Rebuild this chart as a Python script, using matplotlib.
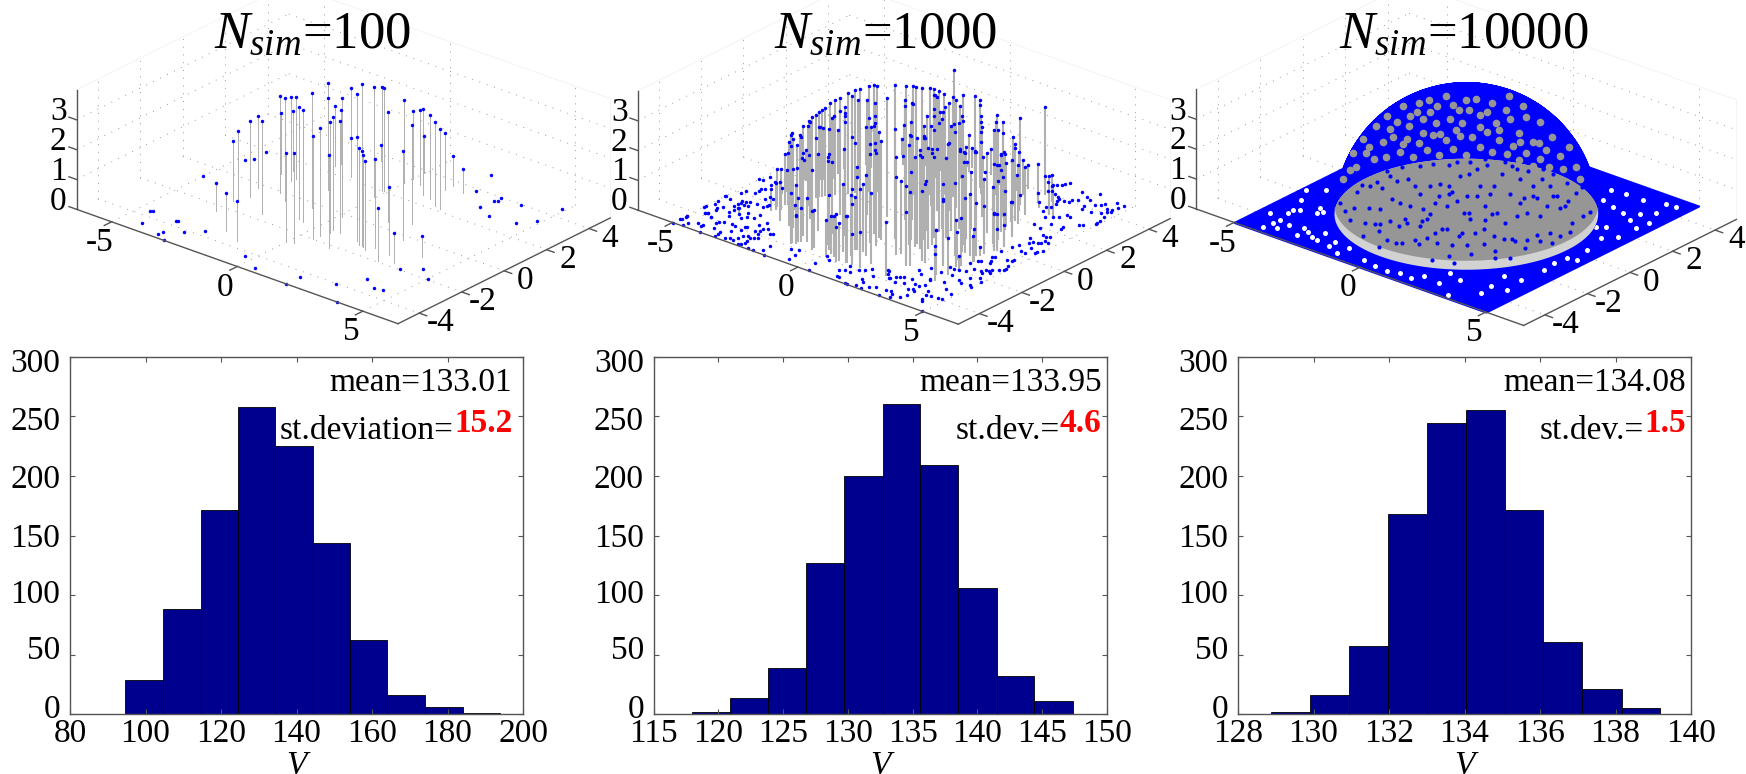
import numpy as np
import matplotlib
matplotlib.use("Agg")
import matplotlib.pyplot as plt
from mpl_toolkits.mplot3d import art3d, proj3d
from matplotlib.transforms import ScaledTranslation

plt.rcParams["font.family"] = ["Liberation Serif", "DejaVu Serif"]
plt.rcParams["mathtext.fontset"] = "custom"
plt.rcParams["mathtext.it"] = "Liberation Serif:italic"
plt.rcParams["mathtext.rm"] = "Liberation Serif"

# scatter values are in hundredths
P1_FLOOR_X = [-462,-452,-425,-356,-348,-334,-331,-297,-285,-239,-30,48,195,193,311,395,358,416,449,392,442,500,164,203,288,301,295,286,352,374,445,487,485,-500,-467,-480,-459]
P1_FLOOR_Y = [-366,-361,-447,-367,-367,-476,-458,-496,-414,-371,-429,-473,-499,-435,-401,-499,-311,-350,-344,-196,-150,-194,500,386,367,371,395,305,271,396,287,338,458,-70,186,106,124]
P1_DOME_X = [-311,-192,-120,-317,-312,-294,-319,-186,-245,-196,-331,-1,-272,-319,24,-273,-78,-55,-101,47,49,-145,-240,125,58,54,-241,80,-236,13,-153,-235,27,157,184,194,-41,204,218,-6,233,-18,-158,-11,144,298,301,346,264,0,207,1,44,385,96,0,135,176,203,124,128,182]
P1_DOME_Y = [-234,-327,-357,-147,-125,-93,-24,-164,-8,-45,99,-268,76,138,-260,101,-117,-126,-29,-197,-167,99,210,-216,-132,-111,247,-112,267,-20,219,315,30,-122,-142,-143,135,-147,-156,152,-127,201,364,205,39,-138,-193,-173,-30,286,78,329,310,-85,261,380,249,223,217,330,365,346]
P1_DOME_Z = [94,129,134,199,228,256,240,314,324,346,202,297,284,199,302,274,374,375,386,345,360,361,242,312,373,380,202,375,182,399,297,73,398,347,325,319,374,311,297,370,299,349,52,346,371,228,178,99,298,279,333,227,249,70,288,126,282,282,268,189,103,83]

P2_FLOOR_X = [-500,-500,-494,-500,-500,-471,-460,-439,-486,-492,-457,-462,-458,-500,-497,-474,-433,-434,-434,-415,-413,-438,-424,-416,-415,-401,-388,-361,-359,-358,-393,-394,-378,-480,-474,-445,-444,-450,-439,-500,-489,-484,-453,-444,-419,-399,-387,-352,-333,-331,-371,-360,153,185,215,221,231,235,241,227,258,237,277,289,311,327,325,337,310,346,367,364,399,413,419,443,474,467,448,466,471,461,481,451,425,382,389,304,295,308,296,310,340,358,377,380,398,-498,-497,-500,-460,-464,-440,-418,-417,-391,-471,-464,-439,-395,-396,-384,-378,-343,-341,-336,-306,-294,-278,-275,-340,-354,-321,-306,-309,-308,-271,-260,-248,-267,-248,-238,-228,-287,-254,-259,-277,-247,-221,-214,-248,-241,-236,-238,-205,-186,-162,-135,-166,-100,-76,-64,-59,39,19,14,40,111,123,113,141,133,142,186,194,218,207,221,244,258,274,216,184,172,156,312,319,225,243,263,229,268,297,277,284,292,324,321,352,297,319,317,362,370,371,381,359,371,383,417,430,444,385,377,329,346,353,439,448,468,485,482,445,410,358,395,354,373,391,408,436,457,450,486,495,475,494,422,446,456,453,463,476,468,482,490,491,481,382,392,400,427,419,406,411,451,469,469,397,406,411,442,463,455,487,486,495,426,431,405,447,453,455,470,420,439,443,349,381,388,428,436,459,466,493,494,487,493]
P2_FLOOR_Y = [-466,-434,-442,-350,-341,-383,-380,-393,-314,-294,-314,-334,-347,-253,-251,-260,-291,-267,-257,-291,-311,-245,-243,-233,-263,-261,-234,-237,-223,-215,-191,-167,-170,-203,-182,-176,-157,-140,-134,-91,-85,-59,-74,-100,-329,-353,-321,-326,-313,-289,-298,-342,488,462,446,460,475,482,500,412,407,421,398,393,389,394,408,424,473,457,443,497,429,441,456,483,477,458,430,433,422,413,377,396,383,399,380,358,376,331,321,292,264,279,289,319,313,-499,-461,-434,-473,-492,-450,-453,-462,-500,-383,-376,-393,-418,-404,-396,-450,-462,-473,-494,-483,-474,-476,-457,-397,-390,-434,-405,-383,-376,-439,-429,-435,-388,-395,-426,-418,-342,-377,-360,-319,-350,-372,-365,-488,-482,-472,-457,-492,-492,-472,-500,-437,-413,-405,-439,-472,-493,-444,-380,-401,-435,-425,-390,-423,-473,-474,-497,-496,-485,-442,-452,-489,-470,-454,-403,-367,-387,-394,-453,-494,-339,-364,-379,-339,-381,-391,-364,-355,-345,-381,-339,-363,-279,-294,-245,-304,-313,-366,-351,-407,-397,-403,-377,-404,-398,-441,-464,-448,-465,-481,-433,-444,-394,-394,-347,-328,-295,-246,-242,-199,-202,-202,-188,-255,-269,-221,-263,-270,-200,-222,-166,-165,-169,-146,-147,-158,-137,-122,-109,-99,-79,-138,-114,-107,-100,-85,-65,-58,-48,-42,-33,-9,29,59,28,24,64,51,44,73,87,100,116,105,110,127,124,160,154,164,200,190,236,244,227,286,293,331,322,351,-497]
P2_DOME_X = [-331,-309,-327,-321,-319,-253,-330,-251,-307,-265,-297,-294,-288,-283,-277,-271,-264,-255,-245,-230,-217,-206,-189,-179,-171,-181,-282,-85,-271,-33,-381,-262,-323,-328,-153,-167,-381,-198,-395,-178,-395,-121,-386,-139,-391,-126,-377,-203,-358,-219,-355,-142,-355,-200,-342,-150,-330,-117,-309,-93,-346,-22,-355,-30,-341,-40,-302,-16,-324,16,-298,48,-312,60,-319,50,-337,79,-62,-80,-387,-38,-383,-63,21,54,101,52,75,92,31,57,70,149,-12,48,95,-121,-100,-113,-54,-119,89,33,11,-129,-127,-115,-91,-73,-54,-34,-28,-10,-6,29,-66,97,49,87,80,156,119,166,146,211,144,250,183,279,251,-2,-199,26,-185,38,-102,57,-68,87,-37,114,-120,130,-239,59,-195,125,-183,153,-158,162,-94,191,-97,181,-7,166,32,190,18,218,-51,240,-12,238,119,286,80,293,167,308,150,265,281,336,218,281,254,357,279,87,-240,92,-226,165,-183,161,-212,132,-288,153,-236,196,-198,202,-159,211,-127,229,-91,264,-103,253,-38,280,17,276,-14,303,52,298,-4,322,59,336,52,306,-64,278,-77,257,233,204,183,174,-279,135,220,273,298,310,307,178,205,168,173,222,250,255,323,327,343,359,341,295,316,364,367,368,376,359,220,254,241,381,352,384,379,382,-51,8,14,60,63,113,142,-52,88,33,-116,242,352,384,381,383,355,334,390,365,260,380]
P2_DOME_Y = [-205,-215,-176,-169,-155,-206,-101,-186,-112,-139,-94,-85,-76,-66,-58,-49,-35,-22,-10,11,28,38,57,69,74,-30,119,-73,184,-41,-122,-275,-222,-237,-328,-335,-99,-287,-36,-272,-2,-292,-3,-313,16,-254,32,-282,28,-284,21,-185,37,-208,65,-125,62,-137,89,-168,97,-111,139,-209,173,-231,195,-117,205,-161,199,-176,231,-179,243,-220,240,-224,215,-242,-318,-312,102,-283,105,-286,-298,-283,-280,-316,-323,-311,-330,-333,-337,-288,-357,-356,-338,-353,-359,-367,-375,-370,-359,-375,-380,96,117,129,148,162,175,178,195,197,223,221,301,173,268,257,294,229,295,264,305,249,344,243,336,239,291,-23,224,-8,270,87,274,111,311,146,314,29,326,72,263,-39,312,-3,330,-25,347,35,358,8,369,83,325,146,342,188,366,183,378,53,386,186,357,138,387,174,355,166,367,287,292,175,334,280,308,145,286,-150,295,-132,317,-94,345,-120,332,-156,274,-157,322,-106,347,-137,364,-62,373,-28,386,-7,383,-49,393,68,391,119,397,75,389,132,400,49,396,98,396,14,390,-16,392,-108,-142,-155,-185,-197,287,-222,-169,-126,-89,-69,-42,-236,-218,-253,-267,-218,-196,-202,-92,-84,17,30,-87,-184,-166,-55,-19,-1,56,138,-276,-241,-264,20,-122,-11,94,95,-385,-392,-380,-379,-375,-370,-375,-359,-374,-371,-264,-122,-11,19,90,-142,-201,-74,-160,-302,90]
P2_DOME_Z = [125,135,166,169,189,231,202,249,243,265,258,268,275,284,289,295,307,316,321,335,344,346,353,357,355,355,257,384,229,396,16,126,86,70,170,141,69,195,50,233,64,217,103,276,77,254,132,292,177,279,180,311,172,323,198,345,209,344,235,373,146,340,64,325,77,380,164,366,123,359,133,355,63,328,34,328,15,308,234,237,18,279,52,273,266,277,267,240,223,223,224,214,204,233,180,174,191,144,145,112,127,92,153,136,124,366,364,366,364,362,357,356,352,348,332,332,255,347,293,294,259,289,242,251,213,231,146,197,115,157,124,399,265,399,230,389,273,380,242,362,244,382,198,371,185,393,158,380,132,368,120,364,152,351,122,347,233,333,205,297,161,282,122,316,106,262,136,243,63,210,78,195,51,98,85,127,28,64,28,107,17,360,126,366,93,352,88,345,69,344,48,335,29,332,20,317,49,334,72,327,54,300,53,306,64,278,84,264,49,250,79,232,4,232,0,194,23,257,63,287,16,287,292,307,303,301,12,304,288,263,252,244,252,269,265,260,242,251,243,232,218,215,205,175,189,197,179,155,158,157,124,110,187,192,178,121,146,110,85,68,95,79,122,113,124,103,116,127,154,137,93,178,145,110,120,73,117,90,47,26,28,86]

P3_BLUE_X = [-238,-191,-148,-133,-97,-71,-44,-30,1,38,68,93,112,138,162,178,178,195,206,221,263,263,267,300,327,328,344,362,372,360,147,-154,-77,-35,-14,20,53,78,122,136,145,179,200,238,241,268,297,320,335,347,345,365,376,391,381,366,-146,-75,-26,39,75,118,147,172,218,236,266,303,328,339,359,376,-79,-17,19,73,114,148,169,198,231,267,283,307,327,348,364,375,387,395,396,-11,50,126,178,218,254,291,316,341,365,381,393,169,214,229,267,318,345,-115,-50,-1,55,91,133,150,181,208,251,280,300,314,329,348,227,247,185,237,280,289,328,366,7,142,70,123]
P3_BLUE_Y = [-312,-343,-339,-334,-340,-336,-345,-323,-328,-317,-320,-327,-302,-286,-275,-278,-239,-220,-195,-165,-183,-144,-103,-102,-72,-33,-14,-3,39,91,372,-363,-383,-387,-387,-381,-381,-371,-360,-346,-317,-303,-280,-271,-235,-228,-208,-196,-158,-126,-77,-53,-5,32,99,148,-357,-371,-373,-356,-352,-341,-304,-286,-255,-214,-203,-152,-119,-86,-16,18,-390,-392,-395,-388,-374,-360,-345,-325,-309,-274,-254,-235,-212,-181,-146,-112,-64,-27,19,-399,-392,-373,-348,-325,-298,-262,-238,-190,-155,-104,-63,-361,-335,-327,-293,-240,-201,-316,-315,-301,-282,-262,-241,-222,-196,-158,-115,-95,-63,-9,19,60,-281,-274,-333,-301,-242,-221,-135,-87,-358,-337,-370,-354]
P3_BLUE_Z = [77,74,151,175,186,204,198,234,228,241,229,211,236,243,241,225,267,271,282,289,239,264,279,244,218,227,203,170,141,147,4,64,84,95,99,118,111,126,124,146,195,189,204,173,217,189,168,137,150,154,186,155,136,76,72,66,104,130,141,177,175,173,213,220,217,242,219,212,196,193,174,133,41,77,61,63,82,93,111,124,105,115,124,102,89,78,76,84,76,54,54,30,58,69,81,79,80,79,55,85,51,60,43,27,42,21,52,34,28,217,242,263,279,288,290,297,297,303,289,269,257,248,226,188,173,154,123,116,152,165,185,134,179,162,135,140]
P3_GREY_X = [-309,-80,-276,-49,-245,40,-148,70,-59,200,24,-202,-351,-241,-363,-124,-347,-36,-306,42,-254,103,-168,164,-104,252,-17,297,-384,-122,-372,-40,-347,37,-299,108,-239,159,-170,234,-92,293,-392,-126,-389,-35,-360,49,-316,118,-260,177,-192,239,-114,298,-9,325,115,-37,-212,107,-119,128,-295,-131,-223,10,-390,336,-382,-256,99,-35,-273,52,-336,-93,-368,134,-164,237,-39]
P3_GREY_Y = [67,-139,152,-36,257,0,298,120,350,108,376,-136,-9,-199,-103,-181,143,-160,219,-127,282,-58,337,10,371,16,394,88,-1,-246,94,-233,189,-199,257,-157,311,-93,355,-56,388,-1,-54,-287,83,-270,173,-243,245,-201,304,-145,350,-93,383,-37,400,71,379,-96,248,-31,327,114,128,-204,277,-74,-10,135,-96,-275,367,-130,274,-186,192,-155,136,-94,348,-28,389]
P3_GREY_Z = [245,366,247,395,185,398,222,375,185,329,133,317,192,249,132,334,139,365,135,377,128,382,134,364,108,310,70,253,111,291,115,322,66,345,67,351,77,355,71,319,38,272,61,248,46,292,22,314,15,325,11,328,26,306,10,264,14,222,59,386,232,384,198,361,239,318,184,393,91,169,68,137,126,377,103,350,102,357,78,365,109,321,87]
P3_GAP_X = [-459,-405,-362,-421,-448,-483,-351,-436,-312,-285,-413,-239,-367,-374,-26,-115,121,167,191,330,237,291,256,-227,-169,-119,32,82,-297,-254,-405,-417,-405,-343,-177,251,305,274,344,467,406,456,383,224,398,413,452,436,359,445,468,437,438,430,376,392,399,446,430,425,359,460]
P3_GAP_Y = [-380,-396,-407,-316,-245,-181,-288,-142,-396,-405,-465,-381,-255,-448,-452,-417,-453,-460,-425,-479,-355,-372,-432,-434,-447,-467,-465,-470,-446,-425,-303,-344,-428,-266,-407,344,327,426,422,308,287,174,205,415,343,450,451,376,186,39,-35,-45,-154,-254,-269,-349,-405,-335,-99,132,311,255]

RADIUS = 4
DOMAIN = 5
X_TICKS = [-5, 0, 5]
Y_TICKS = [-4, -2, 0, 2, 4]
Z_TICKS = [0, 1, 2, 3]
TITLES = ["100", "1000", "10000"]

H1_EDGES = [94.7,104.6,114.6,124.5,134.4,144.4,154.3,164.1,174.1,184.0,193.9]
H1_COUNTS = [29,88,171,258,225,144,62,16,6,1]
H1_TICKS = [80,100,120,140,160,180,200]
H2_EDGES = [118.0,120.9,123.8,126.8,129.7,132.7,135.6,138.5,141.5,144.4,147.4]
H2_COUNTS = [2,14,39,127,200,260,209,106,32,11]
H2_TICKS = [115,120,125,130,135,140,145,150]
H3_EDGES = [128.87,129.9,130.94,131.97,133.0,134.04,135.07,136.09,137.1,138.16,139.19]
H3_COUNTS = [2,16,57,168,244,255,171,61,21,5]
H3_TICKS = [128,130,132,134,136,138,140]
COUNT_TICKS = [0,50,100,150,200,250,300]
LABEL_SHIFT = [7.6,7,4.3,0.7,0,-2,-4]

W, H = 1746, 774
BLUE = "#0000ff"
NAVY = "#00008f"
AXIS = "#555555"

fig = plt.figure(figsize=(W / 100, H / 100), dpi=100)


def hundredths(*lists):
    n = min(len(v) for v in lists)
    return [np.array(v[:n]) / 100 for v in lists]


def line(ax, x, y, z, **kw):
    ax.plot(x, y, z, clip_on=False, **kw)


def dots(ax, x, y, z, color=BLUE, ms=2.5, zorder=8):
    ax.plot(x, y, z, "o", color=color, ms=ms, mew=0, clip_on=False, zorder=zorder)


def draw_frame(ax, xmax):
    grid = dict(color="#999999", lw=0.7, ls=(0, (1, 7)), zorder=1)
    xl, yl, zl = (-xmax, xmax), (-DOMAIN, DOMAIN), (0, 4)
    for t in X_TICKS:
        line(ax, [t, t], yl, [0, 0], **grid)
        line(ax, [t, t], [DOMAIN, DOMAIN], zl, **grid)
    for t in Y_TICKS:
        line(ax, xl, [t, t], [0, 0], **grid)
        line(ax, [-xmax, -xmax], [t, t], zl, **grid)
    for t in Z_TICKS[1:]:
        line(ax, xl, [DOMAIN, DOMAIN], [t, t], **grid)
        line(ax, [-xmax, -xmax], yl, [t, t], **grid)
    faint = dict(color="#f2f2f2", lw=0.6, zorder=1)
    line(ax, xl, [DOMAIN, DOMAIN], [4, 4], **faint)
    line(ax, [-xmax, -xmax], yl, [4, 4], **faint)
    line(ax, [xmax, xmax], [DOMAIN, DOMAIN], zl, **faint)

    edge = dict(color=AXIS, lw=1.0, zorder=9)
    line(ax, xl, [-DOMAIN, -DOMAIN], [0, 0], **edge)
    line(ax, [xmax, xmax], yl, [0, 0], **edge)
    line(ax, [-xmax, -xmax], [-DOMAIN, -DOMAIN], zl, **edge)
    for t in X_TICKS:
        line(ax, [t, t], [-DOMAIN - 0.35, -DOMAIN], [0, 0], **edge)
        ax.text(t, -DOMAIN - 0.56, -0.5, f"{t}", fontsize=24, ha="center", va="center", zorder=10)
    for t in Y_TICKS:
        line(ax, [xmax, xmax + 0.3], [t, t], [0, 0], **edge)
        ax.text(xmax + 0.84, t, -0.08, f"{t}", fontsize=24, ha="center", va="center", zorder=10)
    for t in Z_TICKS:
        line(ax, [-xmax - 0.3, -xmax], [-DOMAIN, -DOMAIN], [t, t], **edge)
        ax.text(-xmax - 0.73, -DOMAIN, t + 0.05, f"{t}", fontsize=24, ha="center", va="center", zorder=10)


def place(ax, xmax, left, bottom_x):
    # scale and move the 3D box so its floor corners land where they do in the picture
    box = (2 * xmax, 2 * DOMAIN, 4)
    ax.set_xlim(-xmax, xmax)
    ax.set_ylim(-DOMAIN, DOMAIN)
    ax.set_zlim(0, 4)

    def corner(x, y):
        X, Y, _ = proj3d.proj_transform(x, y, 0, ax.get_proj())
        return ax.transData.transform((X, Y))

    zoom = 1.0
    for _ in range(3):
        ax.set_box_aspect(box, zoom=zoom)
        ax.apply_aspect()
        a = corner(-xmax, -DOMAIN)
        b = corner(xmax, -DOMAIN)
        zoom *= (bottom_x - left[0]) / (b[0] - a[0])
        ax.set_box_aspect(box, zoom=zoom)
        a = corner(-xmax, -DOMAIN)
        p = ax.get_position()
        ax.set_position([p.x0 + (left[0] - a[0]) / W, p.y0 + (H - left[1] - a[1]) / H, p.width, p.height])


def make_3d(xmax):
    side = 900
    ax = fig.add_axes([0.2, 0.0, side / W, side / H], projection="3d", computed_zorder=False)
    ax.set_proj_type("ortho")
    ax.view_init(elev=24.9, azim=-49.8)
    ax.set_axis_off()
    ax.patch.set_visible(False)
    ax.set_autoscale_on(False)
    draw_frame(ax, xmax)
    return ax


def stems(ax, x, y, z, lw):
    for xi, yi, zi in zip(x, y, z):
        line(ax, [xi, xi], [yi, yi], [0, zi], color="#b0b0b0", lw=lw, zorder=5)


def histogram(rect_px, edges, counts, ticks, mean, dev_label, dev, text_x):
    l, r = rect_px
    top, bottom = 356.7, 714.3
    ax = fig.add_axes([l / W, 1 - bottom / H, (r - l) / W, (bottom - top) / H])
    ax.bar(edges[:-1], counts, width=np.diff(edges), align="edge", color=NAVY, edgecolor="black", lw=0.6)
    ax.set_xlim(ticks[0], ticks[-1])
    ax.set_ylim(0, 300)
    ax.set_xticks(ticks)
    ax.set_yticks(COUNT_TICKS)
    ax.tick_params(direction="in", length=3.5, width=0.8, color=AXIS, top=True, right=True, labelsize=24)
    ax.tick_params(axis="x", pad=3)
    ax.tick_params(axis="y", pad=7)
    for s in ax.spines.values():
        s.set_color(AXIS)
        s.set_linewidth(1.0)
    for lab, d in zip(ax.get_yticklabels(), LABEL_SHIFT):
        lab.set_transform(lab.get_transform() + ScaledTranslation(0, d / 100, fig.dpi_scale_trans))
    ax.set_xlabel("V", fontsize=24, style="italic", labelpad=1)
    ax.text(text_x, 0.905, f"mean={mean}", transform=ax.transAxes, fontsize=24, ha="right", va="baseline")
    red = ax.text(text_x, 0.79, dev, transform=ax.transAxes, fontsize=24, ha="right", va="baseline",
                  color="#ff0000", fontweight="bold")
    ax.annotate(dev_label, xy=(0, 0), xycoords=red, fontsize=24, ha="right", va="baseline")


# panel 1
ax1 = make_3d(6.4)
fx, fy = hundredths(P1_FLOOR_X, P1_FLOOR_Y)
dx, dy, dz = hundredths(P1_DOME_X, P1_DOME_Y, P1_DOME_Z)
stems(ax1, dx, dy, dz, 0.7)
dots(ax1, fx, fy, np.zeros(len(fx)))
dots(ax1, dx, dy, dz)
place(ax1, 6.4, (76.5, 209.3), 398)

# panel 2
ax2 = make_3d(6.4)
fx, fy = hundredths(P2_FLOOR_X, P2_FLOOR_Y)
dx, dy, dz = hundredths(P2_DOME_X, P2_DOME_Y, P2_DOME_Z)
stems(ax2, dx, dy, dz, 1.5)
dots(ax2, fx, fy, np.zeros(len(fx)))
dots(ax2, dx, dy, dz)
place(ax2, 6.4, (637.5, 210), 958.3)

# panel 3: the cloud is too dense to read point by point, so floor and dome are filled
# shapes from the domain and radius, with the marks that can be read drawn on top
ax3 = make_3d(6.5)
floor = art3d.Poly3DCollection(
    [[(-DOMAIN, -DOMAIN, 0), (DOMAIN, -DOMAIN, 0), (DOMAIN, DOMAIN, 0), (-DOMAIN, DOMAIN, 0)]],
    facecolor=BLUE, edgecolor=BLUE, lw=1.5, zorder=2)
ax3.add_collection3d(floor)
floor.set_clip_on(False)
gx, gy = hundredths(P3_GAP_X, P3_GAP_Y)
dots(ax3, gx, gy, np.zeros(len(gx)), color="white", ms=3.6, zorder=3)

theta, phi = np.meshgrid(np.linspace(0, 2 * np.pi, 121), np.linspace(0, np.pi / 2, 41))
cap = ax3.plot_surface(RADIUS * np.cos(theta) * np.cos(phi), RADIUS * np.sin(theta) * np.cos(phi),
                       RADIUS * np.sin(phi), color=BLUE, edgecolor=BLUE, lw=0.4, shade=False, zorder=4)
cap.set_clip_on(False)

view = np.deg2rad(-49.8)
ring = np.linspace(view - np.pi, view + np.pi, 241)
front = np.abs(ring - view) <= np.pi / 2
light = art3d.Poly3DCollection([list(zip(RADIUS * np.cos(ring), RADIUS * np.sin(ring), np.zeros(ring.size)))],
                               facecolor="#d2d2d2", edgecolor="none", zorder=5)
body = art3d.Poly3DCollection([list(zip(RADIUS * np.cos(ring), RADIUS * np.sin(ring), np.where(front, 0.3, 0.0)))],
                              facecolor="#969696", edgecolor="none", zorder=6)
for p in (light, body):
    ax3.add_collection3d(p)
    p.set_clip_on(False)
sx, sy, sz = hundredths(P3_GREY_X, P3_GREY_Y, P3_GREY_Z)
dots(ax3, sx, sy, sz, color="#969696", ms=5.5, zorder=7)
bx, by, bz = hundredths(P3_BLUE_X, P3_BLUE_Y, P3_BLUE_Z)
dots(ax3, bx, by, bz, ms=3.0)
place(ax3, 6.5, (1196.3, 209), 1523.6)

histogram((70, 523), H1_EDGES, H1_COUNTS, H1_TICKS, "133.01", "st.deviation=", "15.2", 0.976)
histogram((653.6, 1107), H2_EDGES, H2_COUNTS, H2_TICKS, "133.95", "st.dev.=", "4.6", 0.988)
histogram((1238, 1691), H3_EDGES, H3_COUNTS, H3_TICKS, "134.08", "st.dev.=", "1.5", 0.988)

for cx, n in zip((312, 886, 1464), TITLES):
    fig.text(cx / W, 1 - 48 / H, f"$N_{{sim}}$={n}", fontsize=38, ha="center", va="baseline")

fig.savefig("out.png", dpi=100)
